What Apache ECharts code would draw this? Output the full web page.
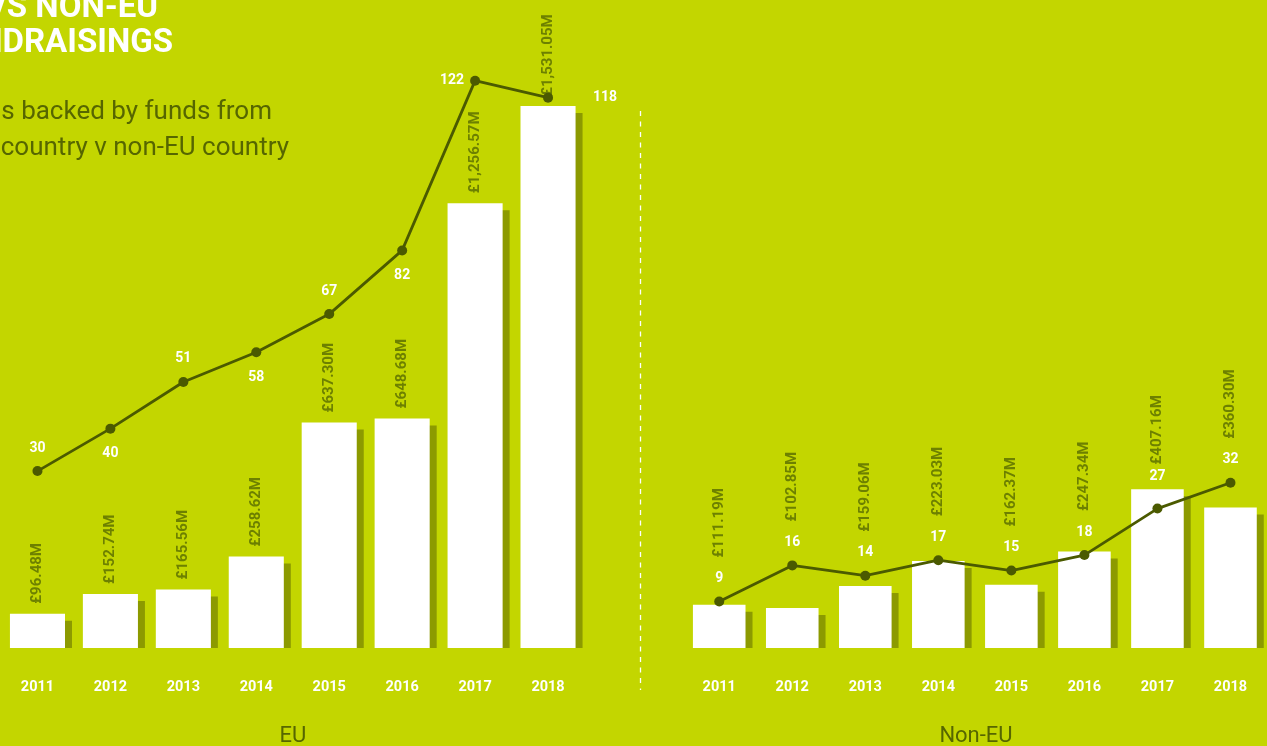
<!DOCTYPE html>
<html><head><meta charset="utf-8">
<script src="https://cdn.jsdelivr.net/npm/echarts@6/dist/echarts.min.js"></script>
<style>html,body{margin:0;padding:0;background:#c3d600;}#c{width:1267px;height:746px;}</style>
</head><body><div id="c"></div>
<script>
// ---- data ----
const years = ['2011','2012','2013','2014','2015','2016','2017','2018'];
const euAmounts = [96.48, 152.74, 165.56, 258.62, 637.30, 648.68, 1256.57, 1531.05]; // £M
const euCounts = [30, 40, 51, 58, 67, 82, 122, 118];
const nonEuAmounts = [111.19, 102.85, 159.06, 223.03, 162.37, 247.34, 407.16, 360.30]; // £M
const nonEuCounts = [9, 16, 14, 17, 15, 18, 27, 32];
const panelNames = ['EU', 'Non-EU'];
const titleLines = ['EU VS NON-EU', 'EU FUNDRAISINGS'];
const subtitleLines = ['Fundraisings backed by funds from', 'an EU country v non-EU country'];

// ---- styles ----
const BG = '#c3d600', SHADOW = '#8c9a00', LINE = '#4b5a00', AMT = '#6d8000', OLIVE = '#566600';
const FONT = 'Roboto, "DejaVu Sans", sans-serif';
const fmt = v => '£' + v.toLocaleString('en-GB', {minimumFractionDigits: 2, maximumFractionDigits: 2}) + 'M';

function barRender(ratio, withLabel) {
  return function (params, api) {
    const i = api.value(0), v = api.value(1);
    const top = api.coord([i, v]);
    const base = api.coord([i, 0]);
    const bw = api.size([1, 0])[0] * ratio;
    const x0 = top[0] - bw / 2;
    const h = base[1] - top[1];
    const children = [
      {type: 'rect', shape: {x: x0 + 7, y: top[1] + 7, width: bw, height: Math.max(0, h - 7)}, style: {fill: SHADOW}},
      {type: 'rect', shape: {x: x0, y: top[1], width: bw, height: h}, style: {fill: '#ffffff'}}
    ];
    if (withLabel) {
      children.push({type: 'text', x: top[0], y: top[1] - 10, rotation: Math.PI / 2,
        style: {text: fmt(v), fill: AMT, fontSize: 15, fontWeight: 'bold', fontFamily: FONT, align: 'left', verticalAlign: 'middle'}});
    }
    return {type: 'group', children};
  };
}
function amtAboveLineRender(amounts) {
  return function (params, api) {
    const i = api.value(0), c = api.value(1);
    const p = api.coord([i, c]);
    return {type: 'text', x: p[0], y: p[1] - 44, rotation: Math.PI / 2,
      style: {text: fmt(amounts[i]), fill: AMT, fontSize: 15, fontWeight: 'bold', fontFamily: FONT, align: 'left', verticalAlign: 'middle'}};
  };
}

const euLabelPlace = [['top',11],['bottom',13],['top',11],['bottom',13],['top',11],['bottom',13],['left',6],['right',40]];
const nonEuLabelPlace = [['top',11],['top',11],['top',11],['top',11],['top',11],['top',11],['top',20],['top',11]];
const lineData = (counts, place) => counts.map((c, i) => ({value: c, label: {position: place[i][0], distance: place[i][1]}}));

const countLabel = {show: true, color: '#ffffff', fontSize: 14, fontWeight: 'bold', fontFamily: FONT};
const xAxisCommon = {type: 'category', data: years, axisLine: {show: false}, axisTick: {show: false},
  axisLabel: {color: '#ffffff', fontSize: 14.5, fontWeight: 'bold', fontFamily: FONT, margin: 32}};
const yHidden = {type: 'value', show: false, splitLine: {show: false}};

const option = {
  backgroundColor: BG,
  animation: false,
  grid: [
    {left: 1, top: 48, width: 583.5, height: 600},
    {left: 682.7, top: 48, width: 588, height: 600}
  ],
  xAxis: [Object.assign({gridIndex: 0}, xAxisCommon), Object.assign({gridIndex: 1}, xAxisCommon)],
  yAxis: [
    Object.assign({gridIndex: 0, min: 0, max: 1695}, yHidden),
    Object.assign({gridIndex: 0, min: -11.69, max: 129.7}, yHidden),
    Object.assign({gridIndex: 1, min: 0, max: 1538.5}, yHidden),
    Object.assign({gridIndex: 1, min: 0, max: 116.2}, yHidden)
  ],
  series: [
    {type: 'custom', xAxisIndex: 0, yAxisIndex: 0, z: 1, renderItem: barRender(0.755, true),
      data: euAmounts.map((v, i) => [i, v]), encode: {x: 0, y: 1}},
    {type: 'line', xAxisIndex: 0, yAxisIndex: 1, z: 3, symbol: 'circle', symbolSize: 10,
      lineStyle: {color: LINE, width: 2.8}, itemStyle: {color: LINE}, label: countLabel,
      data: lineData(euCounts, euLabelPlace)},
    {type: 'custom', xAxisIndex: 1, yAxisIndex: 2, z: 1, renderItem: barRender(0.72, false),
      data: nonEuAmounts.map((v, i) => [i, v]), encode: {x: 0, y: 1}},
    {type: 'line', xAxisIndex: 1, yAxisIndex: 3, z: 3, symbol: 'circle', symbolSize: 10,
      lineStyle: {color: LINE, width: 2.8}, itemStyle: {color: LINE}, label: countLabel,
      data: lineData(nonEuCounts, nonEuLabelPlace)},
    {type: 'custom', xAxisIndex: 1, yAxisIndex: 3, z: 4, renderItem: amtAboveLineRender(nonEuAmounts),
      data: nonEuCounts.map((c, i) => [i, c]), encode: {x: 0, y: 1}}
  ],
  graphic: [
    {type: 'text', right: 1267 - 158, top: -8, style: {text: titleLines[0], fill: '#ffffff', fontSize: 33, fontWeight: 'bold', fontFamily: FONT}},
    {type: 'text', x: 173, y: 44, style: {text: titleLines[1], fill: '#ffffff', fontSize: 33, fontWeight: 'bold', fontFamily: FONT, align: 'right', verticalAlign: 'middle'}},
    {type: 'text', x: 272, y: 112, style: {text: subtitleLines[0], fill: OLIVE, fontSize: 26, fontFamily: FONT, align: 'right', verticalAlign: 'middle'}},
    {type: 'text', x: 289, y: 148, style: {text: subtitleLines[1], fill: OLIVE, fontSize: 26, fontFamily: FONT, align: 'right', verticalAlign: 'middle'}},
    {type: 'line', shape: {x1: 640.5, y1: 111, x2: 640.5, y2: 690}, style: {stroke: '#ffffff', lineWidth: 1.3, lineDash: [5, 5.5]}},
    {type: 'text', x: 293, y: 736, style: {text: panelNames[0], fill: OLIVE, fontSize: 22, fontFamily: FONT, align: 'center', verticalAlign: 'middle'}},
    {type: 'text', x: 976, y: 736, style: {text: panelNames[1], fill: OLIVE, fontSize: 22, fontFamily: FONT, align: 'center', verticalAlign: 'middle'}}
  ]
};
const chart = echarts.init(document.getElementById('c'), null, {renderer: 'canvas'});
chart.setOption(option);
</script></body></html>
